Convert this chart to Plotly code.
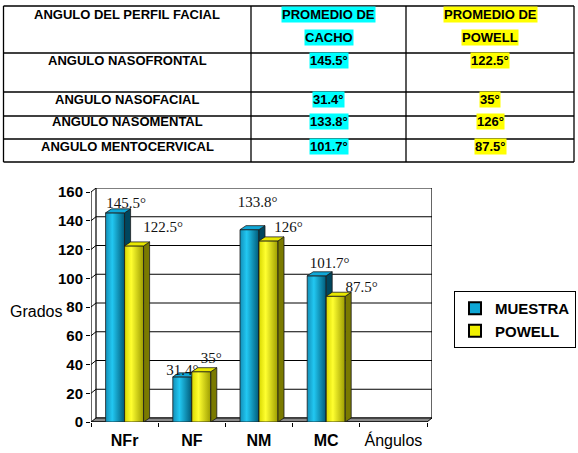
import plotly.graph_objects as go

# ---------------- data ----------------
categories = ["NFr", "NF", "NM", "MC"]
x_axis_title = "Ángulos"
y_axis_title = "Grados"
series_names = ["MUESTRA", "POWELL"]
muestra = [145.5, 31.4, 133.8, 101.7]
powell = [122.5, 35, 126, 87.5]
y_ticks = [0, 20, 40, 60, 80, 100, 120, 140, 160]

table_header_col1 = "ANGULO DEL PERFIL FACIAL"
table_header_col2 = ["PROMEDIO DE", "CACHO"]
table_header_col3 = ["PROMEDIO DE", "POWELL"]
table_rows = ["ANGULO NASOFRONTAL", "ANGULO NASOFACIAL", "ANGULO NASOMENTAL", "ANGULO MENTOCERVICAL"]

# ---------------- styles / layout ----------------
W, H = 578, 453
L, R, T, B = 91, 432, 188, 422          # plot area in pixels
PXX = 67.2                               # px per x unit
PXY = (422 - 192) / 160.0                # px per y unit
WALL_DX, WALL_DY = 5 / PXX, 4 / PXY
BAR_W = 19 / PXX
BAR_DX, BAR_DY = 6 / PXX, 4 / PXY
XMIN, XMAX = -0.5, 4.5 + WALL_DX
YMAX_FRONT = 160

FONT = "Arial, Liberation Sans, sans-serif"
SERIF = "Times New Roman, Liberation Serif, serif"

front_scales = [
    [[0, "#128fb8"], [0.35, "#22c8f2"], [1, "#005a78"]],
    [[0, "#d8d800"], [0.35, "#ffff30"], [1, "#9c9c00"]],
]
side_colors = ["#00465e", "#7a7a00"]
top_colors = ["#10a8d8", "#e8e800"]
legend_colors = ["#0ea6d4", "#f0f000"]
label_shift = [  # pixel offsets of data labels (dx right, dy up)
    [(11, 9), (0, 6), (8, 26), (13, 12)],
    [(29, 18), (10, 12), (20, 13), (26, 8)],
]

# table geometry in pixels
tbl_x = [3.5, 251, 406, 574]
tbl_y = [6, 53, 92, 116, 139, 162]
hdr_line_y = [14, 37]
row_text_y = [60, 99, 122, 146]
highlight = ["#00ffff", "#ffff00"]


def pxp(xp):
    return (xp - L) / (R - L)


def pyp(yp):
    return (B - yp) / (B - T)


def fmt(v):
    return f"{v:g}°"


fig = go.Figure()

# legend carriers (real bars; faces drawn on top below)
series = [muestra, powell]
for s, vals in enumerate(series):
    off = -BAR_W if s == 0 else 0.0
    fig.add_trace(go.Bar(
        x=list(range(len(categories))), y=vals, name=series_names[s],
        width=BAR_W, offset=off,
        marker=dict(color=legend_colors[s], line=dict(color="black", width=1)),
        hoverinfo="skip",
    ))

# back wall
bx0, bx1 = XMIN + WALL_DX, 4.5 + WALL_DX
fig.add_trace(go.Scatter(
    x=[bx0, bx1, bx1, bx0, bx0],
    y=[WALL_DY, WALL_DY, YMAX_FRONT + WALL_DY, YMAX_FRONT + WALL_DY, WALL_DY],
    mode="lines", fill="toself", fillcolor="white",
    line=dict(color="black", width=1.2), showlegend=False, hoverinfo="skip"))
# gridlines on back wall and left wall
gx, gy = [], []
for v in y_ticks[1:-1]:
    gx += [XMIN, bx0, bx1, None]
    gy += [v, v + WALL_DY, v + WALL_DY, None]
gx += [XMIN, bx0, None]
gy += [YMAX_FRONT, YMAX_FRONT + WALL_DY, None]
fig.add_trace(go.Scatter(x=gx, y=gy, mode="lines", line=dict(color="black", width=1),
                         showlegend=False, hoverinfo="skip"))
# floor
fig.add_trace(go.Scatter(
    x=[XMIN, 4.5, 4.5 + WALL_DX, XMIN + WALL_DX, XMIN],
    y=[0, 0, WALL_DY, WALL_DY, 0],
    mode="lines", fill="toself", fillcolor="#8a8a8a",
    line=dict(color="black", width=1), showlegend=False, hoverinfo="skip"))
# axis lines
fig.add_trace(go.Scatter(x=[XMIN, XMIN, None, XMIN, 4.5], y=[YMAX_FRONT, 0, None, 0, 0],
                         mode="lines", line=dict(color="black", width=1.2),
                         showlegend=False, hoverinfo="skip"))

# 3D bars + labels
for s, vals in enumerate(series):
    for i, v in enumerate(vals):
        x0 = i - BAR_W if s == 0 else i
        x1 = x0 + BAR_W
        fig.add_trace(go.Scatter(
            x=[x0, x1, x1, x0, x0], y=[0, 0, v, v, 0], mode="lines", fill="toself",
            fillgradient=dict(type="horizontal", colorscale=front_scales[s], start=x0, stop=x1),
            line=dict(color="#1a1a1a", width=0.8), showlegend=False, hoverinfo="skip"))
        fig.add_trace(go.Scatter(
            x=[x1, x1 + BAR_DX, x1 + BAR_DX, x1, x1], y=[0, BAR_DY, v + BAR_DY, v, 0],
            mode="lines", fill="toself", fillcolor=side_colors[s],
            line=dict(color="#1a1a1a", width=0.8), showlegend=False, hoverinfo="skip"))
        fig.add_trace(go.Scatter(
            x=[x0, x1, x1 + BAR_DX, x0 + BAR_DX, x0], y=[v, v, v + BAR_DY, v + BAR_DY, v],
            mode="lines", fill="toself", fillcolor=top_colors[s],
            line=dict(color="#1a1a1a", width=0.8), showlegend=False, hoverinfo="skip"))
    lx = [(i - BAR_W / 2 if s == 0 else i + BAR_W / 2) + label_shift[s][i][0] / PXX
          for i in range(len(vals))]
    ly = [v + label_shift[s][i][1] / PXY for i, v in enumerate(vals)]
    fig.add_trace(go.Scatter(
        x=lx, y=ly, mode="text", text=[fmt(v) for v in vals], textposition="middle center",
        textfont=dict(family=SERIF, size=15, color="#111111"), cliponaxis=False,
        showlegend=False, hoverinfo="skip"))

# ---------------- table ----------------
shapes = []
for xp in tbl_x:
    shapes.append(dict(type="line", xref="paper", yref="paper", x0=pxp(xp), x1=pxp(xp),
                       y0=pyp(tbl_y[0]), y1=pyp(tbl_y[-1]), line=dict(color="black", width=1.3)))
for yp in tbl_y:
    shapes.append(dict(type="line", xref="paper", yref="paper", x0=pxp(tbl_x[0]), x1=pxp(tbl_x[-1]),
                       y0=pyp(yp), y1=pyp(yp), line=dict(color="black", width=1.3)))

annotations = []
tfont = dict(family=FONT, size=13, color="black")
col_c = [(tbl_x[k] + tbl_x[k + 1]) / 2 for k in range(3)]


def cell(text, xp, yp, bg=None):
    a = dict(text=f"<b>{text}</b>", x=pxp(xp), y=pyp(yp), xref="paper", yref="paper",
             xanchor="center", yanchor="middle", showarrow=False, font=tfont, borderpad=0)
    if bg:
        a["bgcolor"] = bg
    annotations.append(a)


cell(table_header_col1, col_c[0], hdr_line_y[0])
for k, t in enumerate(table_header_col2):
    cell(t, col_c[1], hdr_line_y[k], highlight[0])
for k, t in enumerate(table_header_col3):
    cell(t, col_c[2], hdr_line_y[k], highlight[1])
for r, name in enumerate(table_rows):
    cell(name, col_c[0], row_text_y[r])
    cell(fmt(muestra[r]), col_c[1], row_text_y[r], highlight[0])
    cell(fmt(powell[r]), col_c[2], row_text_y[r], highlight[1])

# y-axis title
annotations.append(dict(text=y_axis_title, x=pxp(36), y=pyp(311), xref="paper", yref="paper",
                        xanchor="center", yanchor="middle", showarrow=False,
                        font=dict(family=FONT, size=16, color="black")))

ticktext = [f"<b>{c}</b>" for c in categories] + [x_axis_title]

fig.update_layout(
    width=W, height=H,
    margin=dict(l=L, r=W - R, t=T, b=H - B, pad=0, autoexpand=False),
    paper_bgcolor="white", plot_bgcolor="white",
    barmode="overlay",
    showlegend=True,
    legend=dict(x=pxp(454), y=pyp(291), xanchor="left", yanchor="top",
                bordercolor="black", borderwidth=1, bgcolor="white",
                font=dict(family=FONT, size=15, color="black", weight="bold"),
                itemsizing="constant", tracegroupgap=0, itemwidth=30),
    xaxis=dict(range=[XMIN, XMAX], tickmode="array", tickvals=list(range(len(ticktext))),
               ticktext=ticktext, ticks="outside", ticklen=4, tickcolor="rgba(0,0,0,0)",
               ticklabelstandoff=0, automargin=False,
               tickfont=dict(family=FONT, size=16, color="black"),
               showgrid=False, zeroline=False, showline=False, fixedrange=True,
               minor=dict(tickmode="array", tickvals=[k - 0.5 for k in range(6)],
                          ticks="outside", ticklen=4, tickcolor="black", showgrid=False)),
    yaxis=dict(range=[0, YMAX_FRONT + WALL_DY], tickmode="array", tickvals=y_ticks,
               ticktext=[f"<b>{v}</b>" for v in y_ticks],
               ticks="outside", ticklen=4, tickcolor="black", automargin=False,
               tickfont=dict(family=FONT, size=15, color="black"),
               showgrid=False, zeroline=False, showline=False, fixedrange=True),
    shapes=shapes, annotations=annotations,
    font=dict(family=FONT),
)

fig.write_html("out.html", config={"displayModeBar": False},
               post_script="document.body.style.margin='0';document.body.style.overflow='hidden';")
